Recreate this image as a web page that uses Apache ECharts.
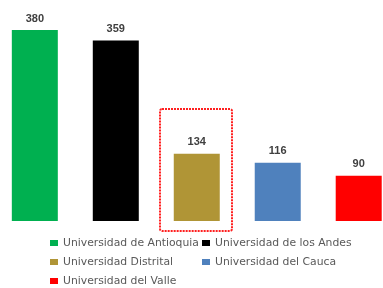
<!DOCTYPE html>
<html>
<head>
<meta charset="utf-8">
<script src="https://cdn.jsdelivr.net/npm/echarts@6/dist/echarts.min.js"></script>
<style>
  html, body { margin: 0; padding: 0; background: #fff; }
  #main { width: 383px; height: 288px; }
</style>
</head>
<body>
<div id="main"></div>
<script>
// universidades y número de registros
var acUniversidad = [
    'Universidad de Antioquia',
    'Universidad de los Andes',
    'Universidad Distrital',
    'Universidad del Cauca',
    'Universidad del Valle'
];
var adValor = [380, 359, 134, 116, 90];
var acColor = ['#00B050', '#000000', '#B09536', '#4F81BD', '#FF0000'];

// recuadro punteado alrededor de la Distrital
var nDestacado = 2;
var dDestacadoTop = 222;

var oChart = echarts.init(document.getElementById('main'));

// una serie por universidad para que cada una tenga su entrada en la leyenda
var aoSeries = [];
for (var i = 0; i < acUniversidad.length; i++) {
    aoSeries.push({
        name: acUniversidad[i],
        type: 'bar',
        data: [[i, adValor[i]]],
        barWidth: 46,
        barGap: '-100%',
        itemStyle: { color: acColor[i] },
        label: {
            show: true,
            position: 'top',
            distance: 6,
            color: '#404040',
            fontFamily: 'Liberation Sans',
            fontWeight: 'bold',
            fontSize: 11
        }
    });
}

var oLegendText = {
    color: '#595959',
    fontFamily: 'DejaVu Sans',
    fontSize: 10.8,
    lineHeight: 12
};

var oLegendBase = {
    orient: 'vertical',
    top: 237,
    padding: 0,
    itemWidth: 8,
    itemHeight: 6,
    itemGap: 7,
    icon: 'rect',
    textStyle: oLegendText
};

var oOption = {
    animation: false,
    grid: { left: 0, right: 0, top: 30, bottom: 67 },
    xAxis: {
        type: 'value',
        min: -0.43,
        max: 4.3,
        show: false
    },
    yAxis: {
        type: 'value',
        min: 0,
        max: 380,
        show: false
    },
    legend: [
        echarts.util.extend({
            left: 50,
            data: [acUniversidad[0], acUniversidad[2], acUniversidad[4]]
        }, oLegendBase),
        echarts.util.extend({
            left: 202,
            data: [acUniversidad[1], acUniversidad[3]]
        }, oLegendBase)
    ],
    series: aoSeries
};
oChart.setOption(oOption);

// dibujar el recuadro a partir de las escalas del gráfico
var aTop = oChart.convertToPixel({ gridIndex: 0 }, [nDestacado, dDestacadoTop]);
var aBase = oChart.convertToPixel({ gridIndex: 0 }, [nDestacado, 0]);
var x0 = Math.round(aTop[0] - 37), y0 = Math.round(aTop[1]);
oChart.setOption({
    graphic: [{
        type: 'rect',
        shape: { x: x0, y: y0, width: 72, height: Math.round(aBase[1] + 10) - y0, r: 2 },
        style: { fill: 'none', stroke: '#FF2020', lineWidth: 2, lineDash: [2, 1] },
        z: 10
    }]
});
</script>
</body>
</html>
